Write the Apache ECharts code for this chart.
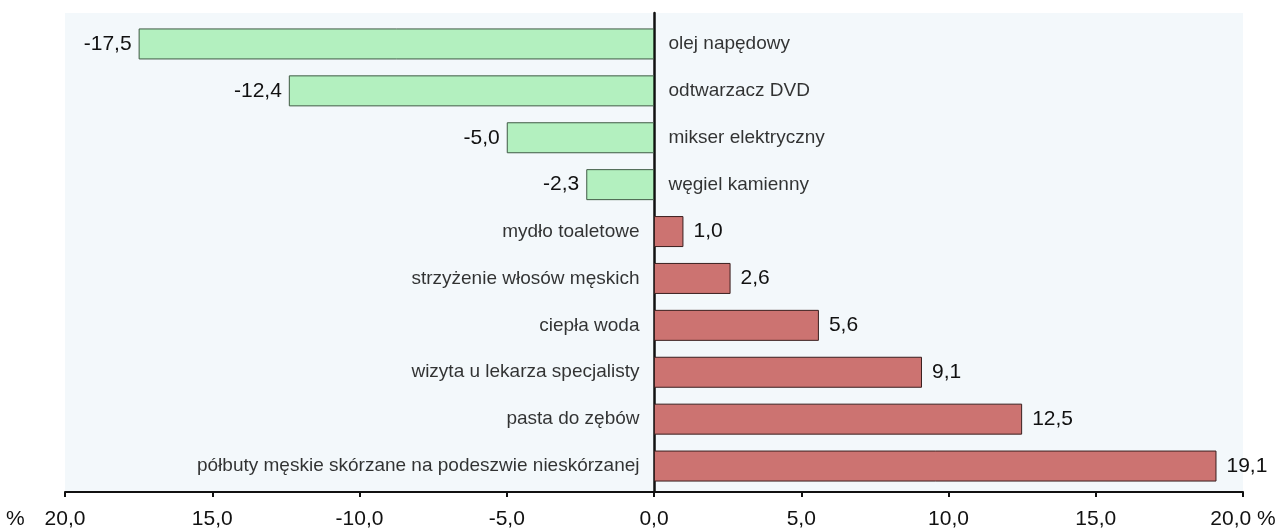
<!DOCTYPE html>
<html>
<head>
<meta charset="utf-8">
<style>
  html, body { margin: 0; padding: 0; background: #fff; }
  #chart { width: 1286px; height: 530px; }
</style>
<script src="https://cdn.jsdelivr.net/npm/echarts@6/dist/echarts.min.js"></script>
</head>
<body>
<div id="chart"></div>
<script>
// categories, top to bottom
const categories = [
  'olej napędowy',
  'odtwarzacz DVD',
  'mikser elektryczny',
  'węgiel kamienny',
  'mydło toaletowe',
  'strzyżenie włosów męskich',
  'ciepła woda',
  'wizyta u lekarza specjalisty',
  'pasta do zębów',
  'półbuty męskie skórzane na podeszwie nieskórzanej',
];

// price change, %
const values = [-17.5, -12.4, -5.0, -2.3, 1.0, 2.6, 5.6, 9.1, 12.5, 19.1];

// tick labels as printed under the axis
const tickLabels = ['20,0', '15,0', '-10,0', '-5,0', '0,0', '5,0', '10,0', '15,0', '20,0 %'];

const FONT = '"Liberation Sans", Arial, sans-serif';
const INK = '#111';
const GREEN = '#b3f0bf';
const RED = '#cc7371';

const fmt = (v) => v.toFixed(1).replace('.', ',');

const chart = echarts.init(document.getElementById('chart'));

const barData = values.map((v) => ({
  value: v,
  itemStyle: {
    color: v < 0 ? GREEN : RED,
    borderColor: v < 0 ? '#3f5a44' : '#3a1f1f',
  },
  label: {
    position: v < 0 ? 'left' : 'right',
    distance: v < 0 ? 7 : 10,
  },
}));

// category names sit next to the zero line, on the side away from the bar
const nameData = values.map((v, i) => ({
  value: [0, i],
  label: {
    position: v < 0 ? 'right' : 'left',
    distance: 14,
  },
}));

chart.setOption({
  animation: false,
  // grid 0: background, zero line and the printed axis
  // grid 1: the bars, inset a little from the top
  grid: [
    {
      left: 65,
      right: 43,
      top: 13,
      bottom: 38,
      show: true,
      backgroundColor: '#f3f8fb',
      borderWidth: 0,
    },
    {
      left: 65,
      right: 43,
      top: 20.5,
      bottom: 40.5,
    },
  ],
  xAxis: [
    {
      gridIndex: 0,
      type: 'value',
      min: -20,
      max: 20,
      interval: 5,
      axisLine: { show: true, onZero: false, lineStyle: { color: INK, width: 2 } },
      axisTick: { show: true, length: 5, lineStyle: { color: INK, width: 2 } },
      splitLine: { show: false },
      axisLabel: {
        margin: 17,
        color: INK,
        fontFamily: FONT,
        fontSize: 21,
        showMaxLabel: true,
        formatter: (v) => tickLabels[Math.round((v + 20) / 5)] || '',
      },
    },
    {
      gridIndex: 1,
      type: 'value',
      min: -20,
      max: 20,
      show: false,
    },
  ],
  yAxis: [
    {
      gridIndex: 0,
      type: 'value',
      min: 0,
      max: 1,
      axisLine: { show: true, onZero: true, lineStyle: { color: INK, width: 2.5 } },
      axisTick: { show: false },
      axisLabel: { show: false },
      splitLine: { show: false },
    },
    {
      gridIndex: 1,
      type: 'category',
      data: categories,
      inverse: true,
      show: false,
    },
  ],
  graphic: [
    {
      type: 'text',
      left: 6,
      top: 509,
      style: { text: '%', fontFamily: FONT, fontSize: 21, fill: INK },
    },
  ],
  series: [
    {
      type: 'bar',
      xAxisIndex: 1,
      yAxisIndex: 1,
      data: barData,
      barWidth: 31,
      z: 2,
      itemStyle: { borderWidth: 1 },
      label: {
        show: true,
        color: INK,
        fontFamily: FONT,
        fontSize: 21,
        formatter: (p) => fmt(p.value),
      },
    },
    {
      type: 'scatter',
      xAxisIndex: 1,
      yAxisIndex: 1,
      data: nameData,
      symbolSize: 1,
      itemStyle: { color: 'rgba(0,0,0,0)' },
      z: 3,
      label: {
        show: true,
        color: '#000',
        fontFamily: FONT,
        fontSize: 19,
        formatter: (p) => categories[p.value[1]],
      },
    },
  ],
});
</script>
</body>
</html>
